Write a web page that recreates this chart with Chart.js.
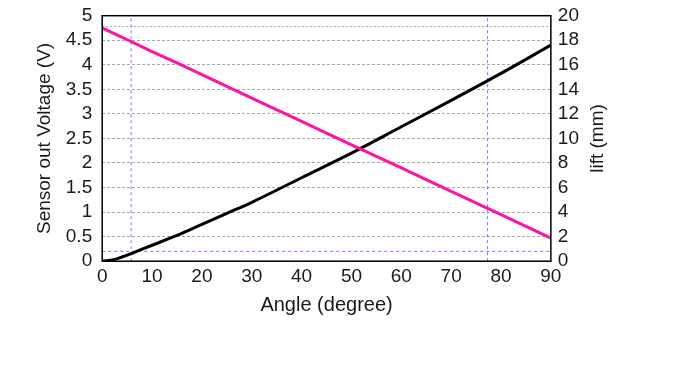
<!DOCTYPE html>
<html>
<head>
<meta charset="utf-8">
<script src="https://cdn.jsdelivr.net/npm/chart.js@4/dist/chart.umd.min.js"></script>
<style>
  html, body { margin: 0; padding: 0; background: #fff; }
  #wrap { width: 675px; height: 380px; }
</style>
</head>
<body>
<div id="wrap"><canvas id="line-chart"></canvas></div>
<script>
// angulo (degree) dos pontos
var angles = [0, 2.5, 5, 7.5, 10, 15, 20, 25, 30, 40, 50, 60, 70, 80, 90]
// saida do sensor, eixo esquerdo (V)
var voltage = [4.75, 4.63, 4.51, 4.39, 4.27, 4.04, 3.80, 3.56, 3.32, 2.85, 2.37, 1.90, 1.42, 0.95, 0.47]
// lift, eixo direito (mm)
var lift = [0, 0.15, 0.5, 0.9, 1.3, 2.1, 3.0, 3.9, 4.8, 6.8, 8.8, 10.95, 13.1, 15.3, 17.6]

// linhas tracejadas de referencia
var guideAngles = [5.8, 77.3]
var guideVoltLow = 0.2
var guideVoltHigh = 4.78

var xTicks = [0, 10, 20, 30, 40, 50, 60, 70, 80, 90]
var yTicks = [0, 0.5, 1, 1.5, 2, 2.5, 3, 3.5, 4, 4.5, 5]
var y1Ticks = [0, 2, 4, 6, 8, 10, 12, 14, 16, 18, 20]

var familia = "'Liberation Sans', Arial, sans-serif"
var fonte = { family: familia, size: 19 }
var fonteY = { family: familia, size: 19, lineHeight: 0.6 }
var fonteX = { family: familia, size: 20 }
var corTexto = '#1a1a1a'
var roxo = 'rgb(140,110,255)'

function pares(xs, ys) {
  return xs.map(function (x, i) { return { x: x, y: ys[i] } })
}

var datasets = [
  {
    label: 'voltage',
    data: pares(angles, voltage),
    borderColor: '#ff12a4',
    borderWidth: 3,
    pointRadius: 0,
    yAxisID: 'y'
  },
  {
    label: 'lift',
    data: pares(angles, lift),
    borderColor: '#000',
    borderWidth: 3,
    pointRadius: 0,
    cubicInterpolationMode: 'monotone',
    yAxisID: 'y1'
  }
]

guideAngles.forEach(function (a) {
  datasets.push({
    data: [{ x: a, y: 0 }, { x: a, y: 5 }],
    borderColor: roxo, borderWidth: 1, borderDash: [3, 3],
    pointRadius: 0, yAxisID: 'y', order: 5
  })
})
datasets.push({
  data: [{ x: 0, y: guideVoltLow }, { x: 90, y: guideVoltLow }],
  borderColor: roxo, borderWidth: 1, borderDash: [3, 3],
  pointRadius: 0, yAxisID: 'y', order: 5
})
datasets.push({
  data: [{ x: 0, y: guideVoltHigh }, { x: 90, y: guideVoltHigh }],
  borderColor: 'rgba(160,150,200,0.9)', borderWidth: 1, borderDash: [2, 2],
  pointRadius: 0, yAxisID: 'y', order: 5
})

// moldura em volta da area do grafico + titulo do eixo direito (lido de baixo pra cima)
var moldura = {
  id: 'moldura',
  afterDatasetsDraw: function (chart) {
    var a = chart.chartArea
    var c = chart.ctx
    c.save()
    c.strokeStyle = '#000'
    c.lineWidth = 1.5
    c.strokeRect(a.left, a.top, a.right - a.left, a.bottom - a.top)
    c.restore()
  },
  afterDraw: function (chart) {
    var a = chart.chartArea
    var c = chart.ctx
    c.save()
    c.translate(598, (a.top + a.bottom) / 2)
    c.rotate(-Math.PI / 2)
    c.font = fonte.size + 'px ' + fonte.family
    c.fillStyle = corTexto
    c.textAlign = 'center'
    c.textBaseline = 'middle'
    c.fillText('lift (mm)', 0, 0)
    c.restore()
  }
}

function fixTicks(lista) {
  return function (axis) {
    axis.ticks = lista.map(function (v) { return { value: v } })
  }
}

function rotulo(v) { return String(v) }

var ctx = document.querySelector('#line-chart')
new Chart(ctx, {
  type: 'line',
  data: { datasets: datasets },
  plugins: [moldura],
  options: {
    responsive: true,
    maintainAspectRatio: false,
    animation: false,
    layout: { padding: { left: 33, right: 89, top: 8, bottom: 63 } },
    plugins: { legend: { display: false }, tooltip: { enabled: false } },
    scales: {
      x: {
        type: 'linear', min: 0, max: 90,
        afterBuildTicks: fixTicks(xTicks),
        grid: { display: false, drawTicks: false },
        border: { display: false },
        ticks: { font: fonte, color: corTexto, padding: 4, maxRotation: 0, autoSkip: false, callback: rotulo },
        title: { display: true, text: 'Angle (degree)', font: fonteX, color: corTexto, padding: { top: 1, bottom: 0 } }
      },
      y: {
        min: 0, max: 5,
        afterBuildTicks: fixTicks(yTicks),
        grid: { color: '#a8a8a8', lineWidth: 1, drawTicks: false },
        border: { display: false, dash: [3, 2] },
        ticks: { font: fonteY, color: corTexto, padding: 10, autoSkip: false, callback: rotulo },
        title: { display: true, text: 'Sensor out Voltage (V)', font: fonte, color: corTexto, padding: 0 }
      },
      y1: {
        position: 'right', min: 0, max: 20,
        afterBuildTicks: fixTicks(y1Ticks),
        grid: { display: false, drawTicks: false },
        border: { display: false },
        ticks: { font: fonteY, color: corTexto, padding: 7, autoSkip: false, callback: rotulo },
        title: { display: false }
      }
    }
  }
})
</script>
</body>
</html>
